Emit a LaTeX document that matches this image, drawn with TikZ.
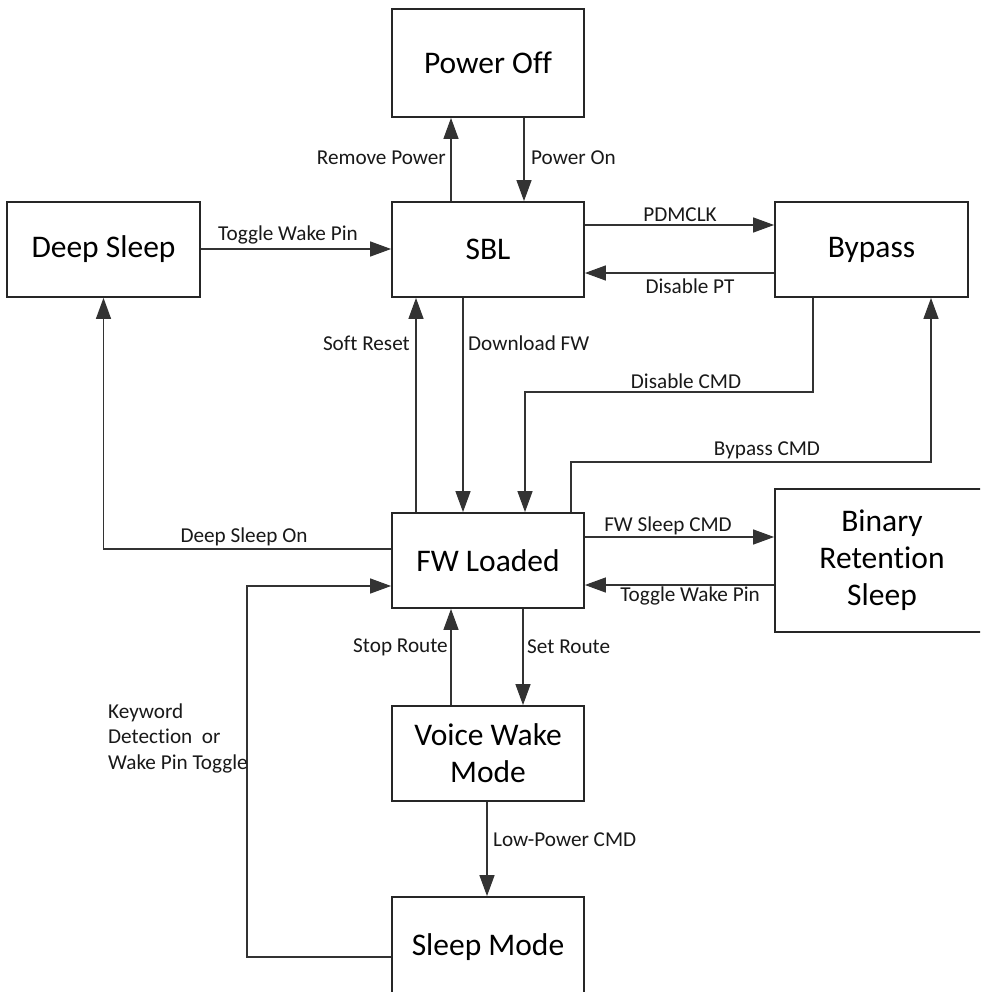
\documentclass[tikz,border=0pt]{standalone}
\usepackage{fontspec}
\setmainfont{Carlito}[Ligatures={NoCommon,NoContextual},RawFeature={-liga;-clig;-calt;-dlig}]
\usetikzlibrary{arrows.meta,calc}
\begin{document}
\begin{tikzpicture}[x=1pt,y=-1pt]
\tikzset{
 state/.style={draw=black!85, line width=1.8pt, minimum width=192pt, minimum height=95pt, inner sep=0pt, font=\fontsize{31.5}{37}\selectfont, align=center},
 conn/.style={draw=black!80, line width=1.3pt, -{Triangle[length=21pt,width=15pt]}},
 lbl/.style={font=\fontsize{21.2}{25.5}\selectfont, inner sep=0pt, text=black!90},
}
\clip (0,0) rectangle (980,992);
\fill[white] (0,0) rectangle (980,992);
% states
\node[state, minimum height=108pt] (poweroff) at (488,63) {Power Off};
\node[state] (sbl) at (488,249.5) {SBL};
\node[state, minimum width=193pt] (deepsleep) at (103.5,249.5) {Deep Sleep};
\node[state, minimum width=193pt] (bypass) at (871.5,249.5) {Bypass};
\node[state] (fwloaded) at (488,560.5) {FW Loaded};
\node[state, minimum width=214pt, minimum height=143pt] (binary) at (882,560.5) {Binary\\Retention\\Sleep};
\node[state] (voice) at (488,753.5) {Voice Wake\\Mode};
\node[state, minimum height=100pt] (sleepmode) at (488,947) {Sleep Mode};
% connectors
\draw[conn] (451,0 |- sbl.north) -- (451,0 |- poweroff.south);
\node[lbl, anchor=east] (lremove) at (446,158) {Remove Power};
\draw[conn] (524,0 |- poweroff.south) -- (524,0 |- sbl.north);
\node[lbl, anchor=west] (lpoweron) at (531,158) {Power On};
\draw[conn] (deepsleep.east |- 0,249) -- (sbl.west |- 0,249);
\node[lbl] (ltoggle1) at (288,235) {Toggle Wake Pin};
\draw[conn] (sbl.east |- 0,225) -- (bypass.west |- 0,225);
\node[lbl] (lpdmclk) at (680,215) {PDMCLK};
\draw[conn] (bypass.west |- 0,273) -- (sbl.east |- 0,273);
\node[lbl] (ldispt) at (690,286) {Disable PT};
\draw[conn] (416,0 |- fwloaded.north) -- (416,0 |- sbl.south);
\node[lbl, anchor=east] (lsoft) at (410,343) {Soft Reset};
\draw[conn] (463,0 |- sbl.south) -- (463,0 |- fwloaded.north);
\node[lbl, anchor=west] (ldownload) at (468,343) {Download FW};
\coordinate (dc1) at (813,392);
\coordinate (dc2) at (525,392);
\draw[conn] (813,0 |- bypass.south) -- (dc1) -- (dc2) -- (525,0 |- fwloaded.north);
\node[lbl] (ldiscmd) at (686,381) {Disable CMD};
\coordinate (bc1) at (571,462);
\coordinate (bc2) at (931,462);
\draw[conn] (571,0 |- fwloaded.north) -- (bc1) -- (bc2) -- (931,0 |- bypass.south);
\node[lbl] (lbypcmd) at (767,450) {Bypass CMD};
\coordinate (ds1) at (103.5,549);
\draw[conn] (fwloaded.west |- 0,549) -- (ds1) -- (deepsleep.south);
\node[lbl] (ldson) at (244,537) {Deep Sleep On};
\draw[conn] (fwloaded.east |- 0,537) -- (binary.west |- 0,537);
\node[lbl] (lfwsleep) at (668,526) {FW Sleep CMD};
\draw[conn] (binary.west |- 0,585) -- (fwloaded.east |- 0,585);
\node[lbl] (ltoggle2) at (690,596) {Toggle Wake Pin};
\draw[conn] (451,0 |- voice.north) -- (451,0 |- fwloaded.south);
\node[lbl, anchor=east] (lstop) at (448,647) {Stop Route};
\draw[conn] (523,0 |- fwloaded.south) -- (523,0 |- voice.north);
\node[lbl, anchor=west] (lset) at (527,647) {Set Route};
\draw[conn] (487,0 |- voice.south) -- (487,0 |- sleepmode.north);
\node[lbl, anchor=west] (llow) at (493,840) {Low-Power CMD};
\coordinate (kw1) at (247,957);
\coordinate (kw2) at (247,586);
\draw[conn] (sleepmode.west |- kw1) -- (kw1) -- (kw2) -- (fwloaded.west |- kw2);
\node[lbl, anchor=west, align=left] (lkey) at (108,738) {Keyword\\Detection\ \ or\\Wake Pin Toggle};
\end{tikzpicture}
\end{document}
